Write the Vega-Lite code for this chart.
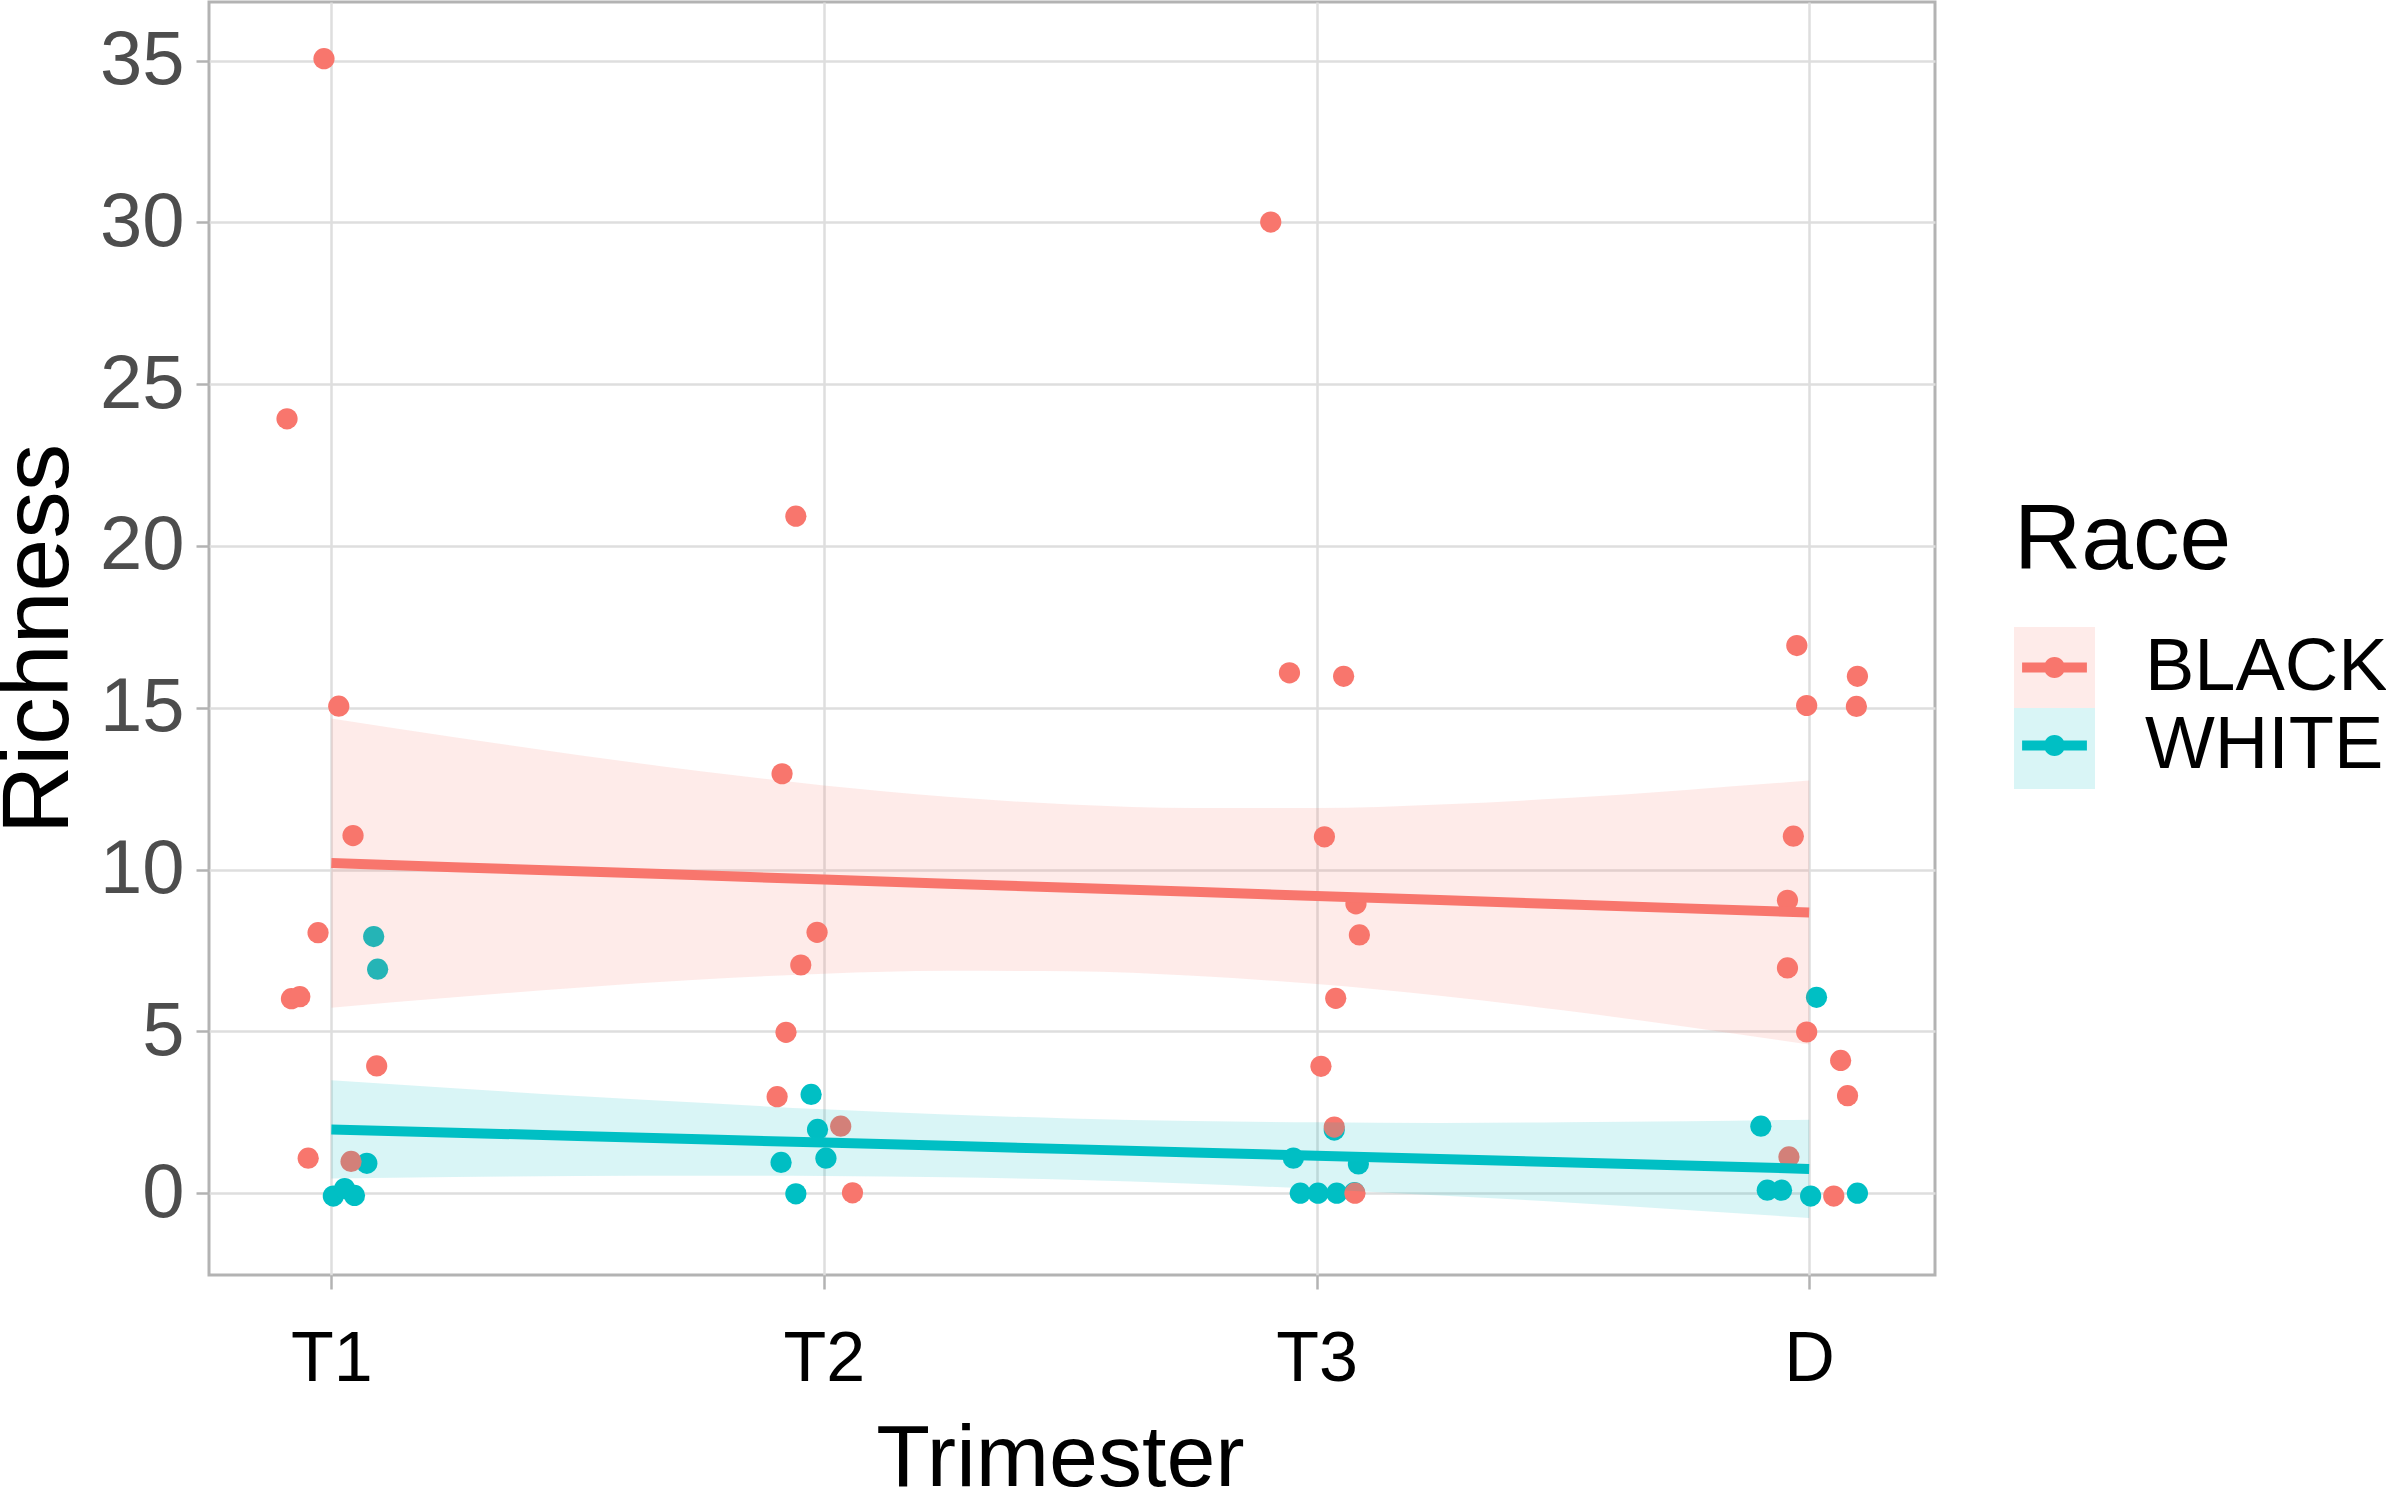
{
  "$schema": "https://vega.github.io/schema/vega-lite/v6.json",
  "width": 1726,
  "height": 1273,
  "autosize": {"type": "none"},
  "padding": {"left": 209, "top": 2, "right": 451, "bottom": 213},
  "background": "white",
  "datasets": {
    "points": [
      {"race": "WHITE", "pos": 1.086, "richness": 7.93},
      {"race": "WHITE", "pos": 1.094, "richness": 6.92},
      {"race": "WHITE", "pos": 1.072, "richness": 0.92},
      {"race": "WHITE", "pos": 1.004, "richness": -0.09},
      {"race": "WHITE", "pos": 1.027, "richness": 0.14},
      {"race": "WHITE", "pos": 1.047, "richness": -0.07},
      {"race": "WHITE", "pos": 1.974, "richness": 3.05},
      {"race": "WHITE", "pos": 1.987, "richness": 1.97},
      {"race": "WHITE", "pos": 2.004, "richness": 1.08},
      {"race": "WHITE", "pos": 1.913, "richness": 0.95},
      {"race": "WHITE", "pos": 1.943, "richness": -0.02},
      {"race": "WHITE", "pos": 2.953, "richness": 1.08},
      {"race": "WHITE", "pos": 3.036, "richness": 1.95},
      {"race": "WHITE", "pos": 3.085, "richness": 0.9},
      {"race": "WHITE", "pos": 2.967, "richness": 0.0},
      {"race": "WHITE", "pos": 3.003, "richness": 0.0},
      {"race": "WHITE", "pos": 3.041, "richness": 0.0},
      {"race": "WHITE", "pos": 3.077, "richness": 0.02},
      {"race": "WHITE", "pos": 4.015, "richness": 6.05},
      {"race": "WHITE", "pos": 3.902, "richness": 2.07},
      {"race": "WHITE", "pos": 3.915, "richness": 0.09},
      {"race": "WHITE", "pos": 3.944, "richness": 0.09},
      {"race": "WHITE", "pos": 4.003, "richness": -0.09},
      {"race": "WHITE", "pos": 4.098, "richness": 0.0},
      {"race": "BLACK", "pos": 0.985, "richness": 35.06},
      {"race": "BLACK", "pos": 0.91, "richness": 23.93},
      {"race": "BLACK", "pos": 1.015, "richness": 15.05},
      {"race": "BLACK", "pos": 1.044, "richness": 11.05},
      {"race": "BLACK", "pos": 0.973, "richness": 8.05},
      {"race": "BLACK", "pos": 0.919, "richness": 6.01},
      {"race": "BLACK", "pos": 0.936, "richness": 6.07},
      {"race": "BLACK", "pos": 1.092, "richness": 3.93},
      {"race": "BLACK", "pos": 0.953, "richness": 1.08},
      {"race": "BLACK", "pos": 1.04, "richness": 0.98},
      {"race": "BLACK", "pos": 1.943, "richness": 20.92},
      {"race": "BLACK", "pos": 1.915, "richness": 12.96},
      {"race": "BLACK", "pos": 1.986, "richness": 8.06},
      {"race": "BLACK", "pos": 1.953, "richness": 7.05},
      {"race": "BLACK", "pos": 1.923, "richness": 4.97},
      {"race": "BLACK", "pos": 1.905, "richness": 2.98},
      {"race": "BLACK", "pos": 2.034, "richness": 2.07},
      {"race": "BLACK", "pos": 2.058, "richness": 0.01},
      {"race": "BLACK", "pos": 2.907, "richness": 30.01},
      {"race": "BLACK", "pos": 2.945, "richness": 16.08},
      {"race": "BLACK", "pos": 3.055, "richness": 15.97},
      {"race": "BLACK", "pos": 3.016, "richness": 11.01},
      {"race": "BLACK", "pos": 3.08, "richness": 8.94},
      {"race": "BLACK", "pos": 3.087, "richness": 7.98},
      {"race": "BLACK", "pos": 3.039, "richness": 6.02},
      {"race": "BLACK", "pos": 3.009, "richness": 3.92},
      {"race": "BLACK", "pos": 3.036, "richness": 2.04},
      {"race": "BLACK", "pos": 3.078, "richness": 0.0},
      {"race": "BLACK", "pos": 3.975, "richness": 16.92},
      {"race": "BLACK", "pos": 4.098, "richness": 15.97},
      {"race": "BLACK", "pos": 3.995, "richness": 15.07},
      {"race": "BLACK", "pos": 4.096, "richness": 15.04},
      {"race": "BLACK", "pos": 3.968, "richness": 11.03},
      {"race": "BLACK", "pos": 3.956, "richness": 9.05},
      {"race": "BLACK", "pos": 3.956, "richness": 6.96},
      {"race": "BLACK", "pos": 3.995, "richness": 4.98},
      {"race": "BLACK", "pos": 4.064, "richness": 4.1},
      {"race": "BLACK", "pos": 4.078, "richness": 3.01},
      {"race": "BLACK", "pos": 3.959, "richness": 1.12},
      {"race": "BLACK", "pos": 4.05, "richness": -0.09}
    ],
    "smooth": [
      {"race": "BLACK", "pos": 1.0, "fit": 10.2, "lo": 5.73, "hi": 14.67},
      {"race": "BLACK", "pos": 1.25, "fit": 10.07, "lo": 6.05, "hi": 14.09},
      {"race": "BLACK", "pos": 1.5, "fit": 9.945, "lo": 6.35, "hi": 13.54},
      {"race": "BLACK", "pos": 1.75, "fit": 9.82, "lo": 6.6, "hi": 13.04},
      {"race": "BLACK", "pos": 2.0, "fit": 9.69, "lo": 6.78, "hi": 12.6},
      {"race": "BLACK", "pos": 2.25, "fit": 9.56, "lo": 6.87, "hi": 12.25},
      {"race": "BLACK", "pos": 2.5, "fit": 9.435, "lo": 6.86, "hi": 12.01},
      {"race": "BLACK", "pos": 2.75, "fit": 9.31, "lo": 6.72, "hi": 11.9},
      {"race": "BLACK", "pos": 3.0, "fit": 9.18, "lo": 6.46, "hi": 11.9},
      {"race": "BLACK", "pos": 3.25, "fit": 9.055, "lo": 6.1, "hi": 12.01},
      {"race": "BLACK", "pos": 3.5, "fit": 8.925, "lo": 5.65, "hi": 12.2},
      {"race": "BLACK", "pos": 3.75, "fit": 8.8, "lo": 5.14, "hi": 12.46},
      {"race": "BLACK", "pos": 4.0, "fit": 8.67, "lo": 4.59, "hi": 12.75},
      {"race": "WHITE", "pos": 1.0, "fit": 1.97, "lo": 0.45, "hi": 3.49},
      {"race": "WHITE", "pos": 1.25, "fit": 1.868, "lo": 0.5, "hi": 3.24},
      {"race": "WHITE", "pos": 1.5, "fit": 1.767, "lo": 0.53, "hi": 3.0},
      {"race": "WHITE", "pos": 1.75, "fit": 1.665, "lo": 0.54, "hi": 2.79},
      {"race": "WHITE", "pos": 2.0, "fit": 1.563, "lo": 0.53, "hi": 2.59},
      {"race": "WHITE", "pos": 2.25, "fit": 1.461, "lo": 0.49, "hi": 2.43},
      {"race": "WHITE", "pos": 2.5, "fit": 1.36, "lo": 0.41, "hi": 2.31},
      {"race": "WHITE", "pos": 2.75, "fit": 1.258, "lo": 0.29, "hi": 2.23},
      {"race": "WHITE", "pos": 3.0, "fit": 1.156, "lo": 0.13, "hi": 2.19},
      {"race": "WHITE", "pos": 3.25, "fit": 1.054, "lo": -0.07, "hi": 2.17},
      {"race": "WHITE", "pos": 3.5, "fit": 0.953, "lo": -0.28, "hi": 2.19},
      {"race": "WHITE", "pos": 3.75, "fit": 0.851, "lo": -0.52, "hi": 2.22},
      {"race": "WHITE", "pos": 4.0, "fit": 0.749, "lo": -0.77, "hi": 2.27}
    ]
  },
  "layer": [
    {
      "data": {"name": "points"},
      "mark": {"type": "point", "filled": true, "opacity": 1, "size": 450, "shape": "circle"},
      "encoding": {
        "x": {
          "field": "pos",
          "type": "quantitative",
          "scale": {"domain": [0.7516, 4.2555], "nice": false, "zero": false},
          "axis": {
            "title": "Trimester",
            "values": [1, 2, 3, 4],
            "labelExpr": "datum.value == 1 ? 'T1' : datum.value == 2 ? 'T2' : datum.value == 3 ? 'T3' : 'D'",
            "labelFontSize": 70,
            "labelColor": "black",
            "labelPadding": 36,
            "tickSize": 14,
            "titleFontSize": 88,
            "titlePadding": 21,
            "titleX": 851,
            "titleAlign": "center"
          }
        },
        "y": {
          "field": "richness",
          "type": "quantitative",
          "scale": {"domain": [-2.53, 36.81], "nice": false, "zero": false},
          "axis": {
            "title": "Richness",
            "values": [0, 5, 10, 15, 20, 25, 30, 35],
            "labelFontSize": 76,
            "labelColor": "#4D4D4D",
            "labelPadding": 12,
            "tickSize": 13,
            "titleFontSize": 95,
            "titlePadding": 12
          }
        },
        "color": {
          "field": "race",
          "type": "nominal",
          "scale": {"domain": ["BLACK", "WHITE"], "range": ["#F8766D", "#00BFC4"]},
          "legend": {
            "title": "Race",
            "orient": "none",
            "legendX": 1805,
            "legendY": 494,
            "padding": 0,
            "titleFontSize": 93,
            "titleFontWeight": "normal",
            "titleColor": "black",
            "titlePadding": 38,
            "titleLimit": 0,
            "labelFontSize": 74,
            "labelColor": "black",
            "labelOffset": 50,
            "labelLimit": 0,
            "rowPadding": 0,
            "symbolSize": 6561,
            "symbolType": "M-0.8,-0.125 L0.8,-0.125 L0.8,0.125 L-0.8,0.125 Z M-0.26,0 A0.26,0.26 0 1,1 0.26,0 A0.26,0.26 0 1,1 -0.26,0 Z",
            "symbolStrokeWidth": 0,
            "symbolOpacity": 1,
            "zindex": 2,
            "encode": {
              "symbols": {
                "update": {
                  "fill": {"scale": "color", "field": "value"},
                  "stroke": {"value": "transparent"}
                }
              }
            }
          }
        }
      }
    },
    {
      "data": {"name": "smooth"},
      "mark": {"type": "area", "opacity": 0.15, "interpolate": "monotone"},
      "encoding": {
        "x": {"field": "pos", "type": "quantitative"},
        "y": {"field": "lo", "type": "quantitative"},
        "y2": {"field": "hi"},
        "fill": {
          "field": "race",
          "type": "nominal",
          "scale": {"range": ["#F8766D", "#00BFC4"]},
          "legend": {
            "title": "Race",
            "orient": "none",
            "legendX": 1805,
            "legendY": 494,
            "padding": 0,
            "titleFontSize": 93,
            "titleFontWeight": "normal",
            "titleOpacity": 0,
            "titlePadding": 38,
            "titleLimit": 0,
            "labelFontSize": 74,
            "labelOpacity": 0,
            "labelOffset": 50,
            "labelLimit": 0,
            "rowPadding": 0,
            "symbolSize": 6561,
            "symbolType": "square",
            "symbolStrokeWidth": 0,
            "symbolOpacity": 0.15,
            "zindex": 1
          }
        }
      }
    },
    {
      "data": {"name": "smooth"},
      "mark": {"type": "line", "strokeWidth": 10, "strokeCap": "butt"},
      "encoding": {
        "x": {"field": "pos", "type": "quantitative"},
        "y": {"field": "fit", "type": "quantitative"},
        "color": {"field": "race", "type": "nominal"}
      }
    }
  ],
  "config": {
    "font": "Liberation Sans",
    "view": {"stroke": "#B3B3B3", "strokeWidth": 3},
    "axis": {
      "grid": true,
      "gridColor": "#DEDEDE",
      "gridWidth": 2.5,
      "domain": false,
      "ticks": true,
      "tickColor": "#B3B3B3",
      "tickWidth": 2.5,
      "titleFontWeight": "normal",
      "titleColor": "black",
      "labelFont": "Liberation Sans",
      "titleFont": "Liberation Sans"
    },
    "legend": {"labelFont": "Liberation Sans", "titleFont": "Liberation Sans"}
  }
}
